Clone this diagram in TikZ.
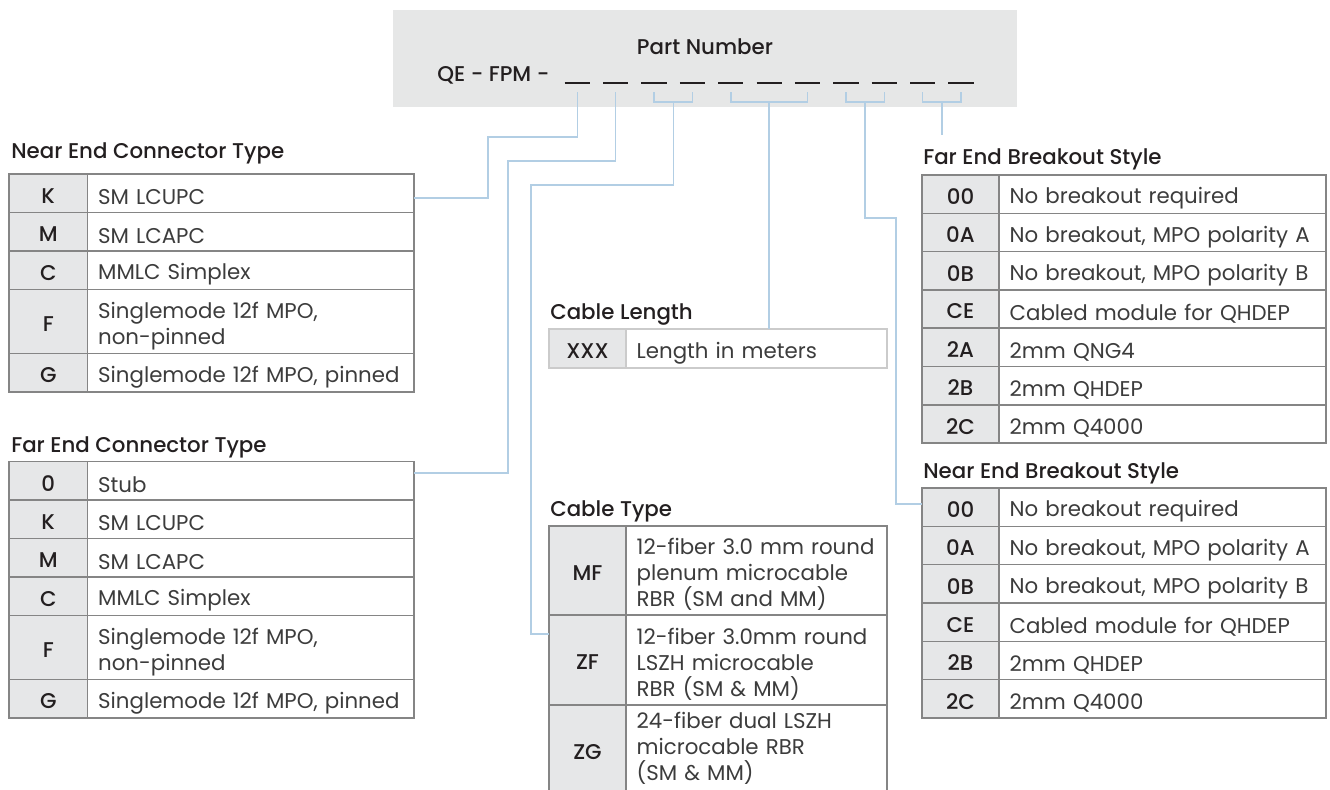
\documentclass[tikz,border=0pt]{standalone}
\usepackage{fontspec}
\setmainfont{Poppins}
\newfontfamily\medfont{Poppins Medium}
\usetikzlibrary{calc}
\definecolor{boxgray}{HTML}{E6E7E7}
\definecolor{codefill}{HTML}{E6E7E8}
\definecolor{tblgray}{HTML}{858585}
\definecolor{lightgray}{HTML}{CBCBCB}
\definecolor{connblue}{HTML}{B2CEE4}
\definecolor{codetext}{HTML}{231F20}
\definecolor{desctext}{HTML}{3C3C3C}
\tikzset{
  cellbase/.style={draw=tblgray, line width=1.1pt, outer sep=0pt, inner sep=0pt, anchor=north west},
  codecell/.style={cellbase, fill=codefill},
  desccell/.style={cellbase},
  codelabel/.style={font=\medfont\fontsize{16}{19.5}\selectfont, text=codetext, inner sep=0pt, anchor=center, align=center},
  desclabel/.style={font=\fontsize{16}{19.5}\selectfont, text=desctext, inner sep=0pt, anchor=center, align=left},
  tabtitle/.style={font=\medfont\fontsize{16}{19.5}\selectfont, text=codetext, inner sep=0pt, anchor=base west},
  conn/.style={draw=connblue, line width=1.1pt},
  blank/.style={draw=codetext, line width=1.4pt}
}
\newcommand\descshift{-3.2pt}
% #1 name, #2 x, #3 ytop, #4 height, #5 code width, #6 desc width, #7 code, #8 desc, #9 extra style
\newcommand\tabrow[9]{%
  \pgfmathsetmacro\rowh{#4*0.75}%
  \pgfmathsetmacro\codew{#5*0.75}%
  \pgfmathsetmacro\descw{(#6)*0.75}%
  \pgfmathsetmacro\desctw{(#6)*0.75-16}%
  \node[codecell, minimum width=\codew pt, minimum height=\rowh pt, #9] (#1c) at (#2,#3) {};
  \node[codelabel] (#1ct) at ([yshift=-1.8pt]#1c.center) {#7};
  \node[desccell, minimum width=\descw pt, minimum height=\rowh pt, #9] (#1d) at (#1c.north east) {};
  \node[desclabel, text width=\desctw pt] (#1dt) at ([yshift=\descshift]#1d.center) {#8};
}
\begin{document}
\begin{tikzpicture}[x=0.75pt,y=-0.75pt]
\useasboundingbox (0,0) rectangle (1330,789);
\clip (0,0) rectangle (1330,789);

% Part number box
\node[fill=boxgray, anchor=north west, minimum width=468pt, minimum height=72.4pt, inner sep=0pt, outer sep=0pt] (pnbox) at (393,10) {};
\node[font=\medfont\fontsize{16}{19.5}\selectfont, text=codetext, inner sep=0pt, anchor=base] (pn) at (705,54) {Part Number};
\node[font=\medfont\fontsize{16}{19.5}\selectfont, text=codetext, inner sep=0pt, anchor=base west] (qe) at (437,81) {QE - FPM -};

% blanks
\foreach \i in {0,...,10} {
  \pgfmathsetmacro\cx{577.35+38.37*\i}
  \draw[blank] (\cx-12.65,83) -- (\cx+12.65,83);
  \coordinate (u\i) at (\cx,92);
}

% Near End Connector Type
\node[tabtitle] (t1) at (11,158) {Near End Connector Type};
\tabrow{nk}{9}{174}{38.5}{78.5}{326.5}{K}{SM LCUPC}{}
\tabrow{nm}{9}{212.5}{38.5}{78.5}{326.5}{M}{SM LCAPC}{}
\tabrow{nc}{9}{251}{38.5}{78.5}{326.5}{C}{MMLC Simplex}{}
\tabrow{nf}{9}{289.5}{64}{78.5}{326.5}{F}{Singlemode 12f MPO,\\non-pinned}{}
\tabrow{ng}{9}{353.5}{38.5}{78.5}{326.5}{G}{Singlemode 12f MPO, pinned}{}

% Far End Connector Type
\node[tabtitle] (t2) at (11,452) {Far End Connector Type};
\tabrow{fo}{9}{461.5}{38.5}{78.5}{326.5}{0}{Stub}{}
\tabrow{fk}{9}{500}{38.5}{78.5}{326.5}{K}{SM LCUPC}{}
\tabrow{fm}{9}{538.5}{38.5}{78.5}{326.5}{M}{SM LCAPC}{}
\tabrow{fc}{9}{577}{38.5}{78.5}{326.5}{C}{MMLC Simplex}{}
\tabrow{ff}{9}{615.5}{64}{78.5}{326.5}{F}{Singlemode 12f MPO,\\non-pinned}{}
\tabrow{fg}{9}{679.5}{38.5}{78.5}{326.5}{G}{Singlemode 12f MPO, pinned}{}

% Cable Length
\node[tabtitle] (t3) at (550,319) {Cable Length};
\tabrow{cl}{549}{329}{39}{77}{261}{XXX}{Length in meters}{draw=lightgray}

% Cable Type
\node[tabtitle] (t4) at (550,516) {Cable Type};
\tabrow{mf}{549}{526}{89}{77}{261}{MF}{12-fiber 3.0 mm round\\plenum microcable\\RBR (SM and MM)}{}
\tabrow{zf}{549}{615}{90}{77}{261}{ZF}{12-fiber 3.0mm round\\LSZH microcable\\RBR (SM \& MM)}{}
\renewcommand\descshift{1pt}
\tabrow{zg}{549}{705}{89}{77}{261}{ZG}{24-fiber dual LSZH\\microcable RBR\\(SM \& MM)}{}
\renewcommand\descshift{-3.2pt}

% Far End Breakout Style
\node[tabtitle] (t5) at (923,164) {Far End Breakout Style};
\tabrow{fb1}{922}{175}{38.3}{77}{327}{00}{No breakout required}{}
\tabrow{fb2}{922}{213.3}{38.3}{77}{327}{0A}{No breakout, MPO polarity A}{}
\tabrow{fb3}{922}{251.6}{38.3}{77}{327}{0B}{No breakout, MPO polarity B}{}
\tabrow{fb4}{922}{289.9}{38.3}{77}{327}{CE}{Cabled module for QHDEP}{}
\tabrow{fb5}{922}{328.2}{38.3}{77}{327}{2A}{2mm QNG4}{}
\tabrow{fb6}{922}{366.5}{38.3}{77}{327}{2B}{2mm QHDEP}{}
\tabrow{fb7}{922}{404.8}{38.3}{77}{327}{2C}{2mm Q4000}{}

% Near End Breakout Style
\node[tabtitle] (t6) at (923,478) {Near End Breakout Style};
\tabrow{nb1}{922}{488}{38.33}{77}{327}{00}{No breakout required}{}
\tabrow{nb2}{922}{526.33}{38.33}{77}{327}{0A}{No breakout, MPO polarity A}{}
\tabrow{nb3}{922}{564.67}{38.33}{77}{327}{0B}{No breakout, MPO polarity B}{}
\tabrow{nb4}{922}{603}{38.33}{77}{327}{CE}{Cabled module for QHDEP}{}
\tabrow{nb5}{922}{641.33}{38.33}{77}{327}{2B}{2mm QHDEP}{}
\tabrow{nb6}{922}{679.67}{38.33}{77}{327}{2C}{2mm Q4000}{}

% brackets
\draw[conn] (u2) -- ++(0,10) -| (u3);
\draw[conn] (u4) -- ++(0,10) -| (u6);
\draw[conn] (u7) -- ++(0,10) -| (u8);
\draw[conn] (u9) -- ++(0,10) -| (u10);
\coordinate (s34) at ($(u2)!0.5!(u3)+(0,10)$);
\coordinate (s57) at ($(u4)!0.5!(u6)+(0,10)$);
\coordinate (s89) at ($(u7)!0.5!(u8)+(0,10)$);
\coordinate (s1011) at ($(u9)!0.5!(u10)+(0,10)$);

% junctions
\coordinate (j1) at (488,137);
\coordinate (j2) at (508,161);
\coordinate (j3) at (531,185);
\coordinate (j5) at (896,218);
\coordinate (e6) at ($(s1011)+(0,33)$);

% connectors
\draw[conn] (u0) |- (j1) |- ([yshift=-3.6pt]nkd.east);
\draw[conn] (u1) |- (j2) |- ([yshift=5.8pt]fod.east);
\draw[conn] (s34) |- (j3) |- ([yshift=19.5pt]zfc.west);
\draw[conn] (s57) -- (s57 |- cld.north);
\draw[conn] (s89) |- (j5) |- ([yshift=2.4pt]nb1c.west);
\draw[conn] (s1011) -- (e6);
\end{tikzpicture}
\end{document}
